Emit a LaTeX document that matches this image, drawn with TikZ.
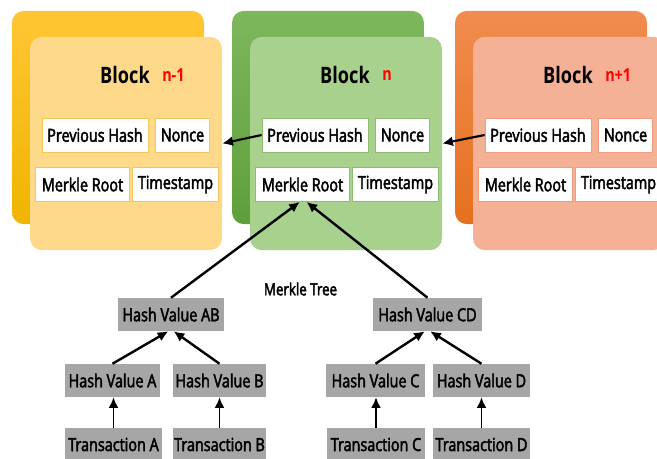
\documentclass[tikz,border=0pt]{standalone}
\usepackage{fontspec}
\usepackage{xcolor}
\usepackage{tikz}
\usetikzlibrary{arrows.meta}
\setmainfont[FakeStretch=0.8, FakeBold=2.5]{Open Sans}
\newfontfamily\titlefont[FakeStretch=0.8]{Open Sans}

\definecolor{backtopy}{HTML}{FFC634}
\definecolor{backboty}{HTML}{F0B400}
\definecolor{fronty}{HTML}{FFD98A}
\definecolor{edgey}{HTML}{F3C65A}
\definecolor{backtopg}{HTML}{7DB85C}
\definecolor{backbotg}{HTML}{5F9E3C}
\definecolor{frontg}{HTML}{A9D18E}
\definecolor{edgeg}{HTML}{8DBE6D}
\definecolor{backtopo}{HTML}{F08C4F}
\definecolor{backboto}{HTML}{E6701E}
\definecolor{fronto}{HTML}{F5B196}
\definecolor{edgeo}{HTML}{EE9E7C}
\definecolor{hashgray}{HTML}{A6A6A6}

\begin{document}
\begin{tikzpicture}[x=0.75pt, y=-0.75pt,
    card/.style={rectangle, rounded corners=9pt, minimum width=144pt, minimum height=160pt, inner sep=0pt},
    field/.style={rectangle, fill=white, draw=#1, line width=0.6pt, minimum height=25.5pt, inner sep=0pt, font=\fontsize{13.5pt}{16pt}\selectfont},
    hashbox/.style={rectangle, fill=hashgray, minimum height=24.75pt, inner sep=0pt, font=\fontsize{13.5pt}{16pt}\selectfont},
    link/.style={-{Latex[length=8pt, width=7.5pt]}, line width=1.8pt}]
    \useasboundingbox (0,0) rectangle (657,458);

    % Blocks n-1, n, n+1
    \foreach \dx/\id/\lbl/\col in {0/a/n-1/y, 220/b/n/g, 443/c/n+1/o} {
        \node[card, top color=backtop\col, bottom color=backbot\col] (back\id) at (108+\dx,117.5) {};
        \node[card, fill=front\col] (front\id) at (126+\dx,143.5) {};
        \node[font=\titlefont\fontsize{17pt}{20pt}\selectfont\bfseries] (title\id) at (125+\dx,75) {Block};
        \node[anchor=west, red, inner sep=0pt, font=\titlefont\fontsize{13.5pt}{15pt}\selectfont\bfseries] (num\id) at (162+\dx,75) {\lbl};
        % Header fields
        \node[field=edge\col, minimum width=79.5pt] (prev\id) at (95+\dx,135) {Previous Hash};
        \node[field=edge\col, minimum width=40pt] (nonce\id) at (182.5+\dx,135) {Nonce};
        \node[field=edge\col, minimum width=70pt] (mr\id) at (82.5+\dx,184.5) {Merkle Root};
        \node[field=edge\col, minimum width=64pt] (time\id) at (175.5+\dx,184.5) {Timestamp};
    }

    % Chain links
    \draw[link, line width=1.6pt] (prevb.west) -- (fronta.east);
    \draw[link, line width=1.6pt] (prevc.west) -- (frontb.east);

    % Merkle tree
    \node[font=\fontsize{12.5pt}{15pt}\selectfont] (mtree) at (300.5,289) {Merkle Tree};
    \node[hashbox, minimum width=79.5pt] (hAB) at (171,314.5) {Hash Value AB};
    \node[hashbox, minimum width=81.75pt] (hCD) at (427.5,314.5) {Hash Value CD};
    \node[hashbox, minimum width=71.25pt] (hA) at (112.5,380.5) {Hash Value A};
    \node[hashbox, minimum width=69.75pt] (hB) at (219.5,380.5) {Hash Value B};
    \node[hashbox, minimum width=74.25pt] (hC) at (375.5,380.5) {Hash Value C};
    \node[hashbox, minimum width=72.75pt] (hD) at (481.5,380.5) {Hash Value D};
    \node[hashbox, minimum width=72.75pt] (tA) at (113.5,444.5) {Transaction A};
    \node[hashbox, minimum width=69.75pt] (tB) at (219.5,444.5) {Transaction B};
    \node[hashbox, minimum width=73.5pt] (tC) at (376,444.5) {Transaction C};
    \node[hashbox, minimum width=72.75pt] (tD) at (481.5,444.5) {Transaction D};

    % Transactions to leaf hashes
    \draw[link, line width=1.4pt] (tA.north) -- (tA.north |- hA.south);
    \draw[link, line width=1.4pt] (tB.north) -- (tB.north |- hB.south);
    \draw[link, line width=1.4pt] (tC.north) -- (tC.north |- hC.south);
    \draw[link, line width=1.4pt] (tD.north) -- (tD.north |- hD.south);

    % Leaf hashes to pair hashes
    \draw[link] (hA.north) -- ([xshift=-2pt]hAB.south);
    \draw[link] (hB.north) -- ([xshift=2pt]hAB.south);
    \draw[link] (hC.north) -- ([xshift=-2pt]hCD.south);
    \draw[link] (hD.north) -- ([xshift=2pt]hCD.south);

    % Pair hashes to Merkle root
    \draw[link] (hAB.north) -- ([xshift=-2pt]mrb.south);
    \draw[link] (hCD.north) -- ([xshift=3pt]mrb.south);
\end{tikzpicture}
\end{document}
